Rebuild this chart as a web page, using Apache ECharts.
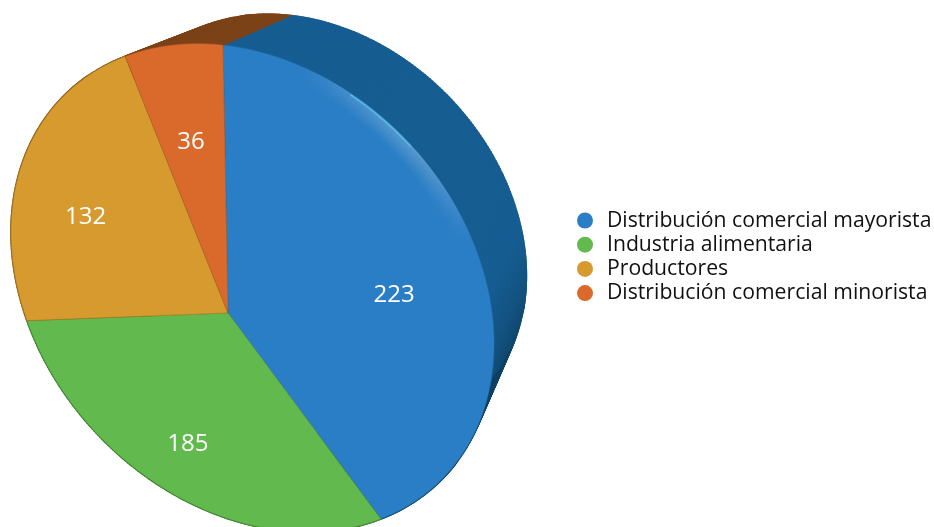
<!DOCTYPE html>
<html><head><meta charset="utf-8">
<style>html,body{margin:0;padding:0;background:#fff}#c{width:934px;height:527px}</style>
<script src="https://cdn.jsdelivr.net/npm/echarts@6/dist/echarts.min.js"></script>
</head><body><div id="c"></div>
<script>
const categories = ['Distribución comercial mayorista','Industria alimentaria','Productores','Distribución comercial minorista'];
const values = [223,185,132,36];
const colors = ['#2a7ec5','#62ba4e','#d69a2e','#d96a2c'];
const rimColors = ['#165d92','#3c7a2c','#8a6216','#7c4218'];
const labelRadius = [0.68,0.67,0.68,0.68];

// perspective projection of the unit disc onto the page
const P = {a:213.5,b:33.6,c:228,d:21.3,e:273.8,f:313,g:-0.1032,h:0.1284};
const VP = [680,-220], K = 0.13, backShift = [8,5], labelDy = 5;
const total = values.reduce((s,v)=>s+v,0);
const startOf = i => values.slice(0,i).reduce((s,v)=>s+v,0)/total*Math.PI*2;
function proj(th,r){
  const x=Math.sin(th)*r,y=-Math.cos(th)*r,w=P.g*x+P.h*y+1;
  return [(P.a*x+P.b*y+P.c)/w,(P.d*x+P.e*y+P.f)/w];
}
const back = p => [p[0]+K*(VP[0]-p[0])+backShift[0],p[1]+K*(VP[1]-p[1])+backShift[1]];
function arc(t0,t1,r){
  const n=Math.max(2,Math.ceil(Math.abs(t1-t0)/0.012)),o=[];
  for(let k=0;k<=n;k++)o.push(proj(t0+(t1-t0)*k/n,r===undefined?1:r));
  return o;
}
function highlight(){
  const out=[],A=0.28,B=1.1,levels=7,m=40;
  for(let l=0;l<levels;l++){
    const r0=1-l*0.0085,r1=r0-0.0085;
    for(let j=0;j<m;j++){
      const a=A+(B-A)*j/m,b=A+(B-A)*(j+1)/m,t=(j+0.5)/m;
      const alpha=0.3*Math.pow(Math.sin(Math.PI*t),1.2)*(1-l/levels);
      out.push({type:'polygon',shape:{points:[proj(a,r0),proj(b,r0),proj(b,r1),proj(a,r1)]},
        style:{fill:'rgba(200,216,232,'+alpha.toFixed(3)+')'}});
    }
  }
  out.push({type:'polyline',shape:{points:arc(0.47,0.72,0.995)},
    style:{fill:'none',stroke:'#50c4f2',lineWidth:1.5,opacity:0.8,lineCap:'round'}});
  return out;
}
function frontItem(i){
  const t0=startOf(i),t1=startOf(i+1),m=(t0+t1)/2;
  const lp=proj(m,labelRadius[i]);
  let kids=[{type:'polygon',shape:{points:[proj(0,0)].concat(arc(t0,t1))},
    style:{fill:colors[i],stroke:echarts.color.modifyHSL(colors[i],null,null,0.38),lineWidth:0.6}}];
  if(i===0)kids=kids.concat(highlight());
  kids.push({type:'text',style:{text:String(values[i]),x:lp[0],y:lp[1]+labelDy,align:'center',verticalAlign:'middle',
    fill:'#fff',font:'24px "Open Sans"',shadowColor:'rgba(0,0,0,0.85)',shadowBlur:2,shadowOffsetX:1,shadowOffsetY:2}});
  return {type:'group',children:kids};
}
function rimItem(i){
  const f=arc(startOf(i),startOf(i+1)),kids=[];
  // first the plain swept outline, then the darkening strips towards the lower tip
  for(let k=0;k<f.length-1;k++){
    const p=f[k],q=f[k+1];
    const d=i===0?Math.max(0,Math.min(1,(p[1]-290)/160)):0;
    const c=i===0?echarts.color.stringify(echarts.color.parse(echarts.color.lerp(d,[rimColors[0],'#0e4062'])),'rgb'):rimColors[i];
    kids.push({type:'polygon',shape:{points:[p,q,back(q),back(p)]},style:{fill:c,stroke:c,lineWidth:1.6}});
  }
  return {type:'group',children:kids};
}
const series=[{type:'custom',name:'rim',coordinateSystem:'none',silent:true,z:1,
  data:values.map((v,i)=>[i,v]),renderItem:(p)=>rimItem(p.dataIndex)}];
categories.forEach((name,i)=>series.push({type:'custom',name,coordinateSystem:'none',silent:true,z:2,
  itemStyle:{color:colors[i]},data:[[i,values[i]]],renderItem:()=>frontItem(i)}));
const chart=echarts.init(document.getElementById('c'),null,{renderer:'canvas'});
chart.setOption({animation:false,backgroundColor:'#fff',
  legend:{data:categories.map(name=>({name,icon:'circle'})),orient:'vertical',left:577,top:210,padding:0,
    itemWidth:16,itemHeight:16,itemGap:3.2,selectedMode:false,
    textStyle:{color:'#111',fontSize:21.2,fontFamily:'"Open Sans"',padding:[0,0,0,9]}},
  series});
</script></body></html>
